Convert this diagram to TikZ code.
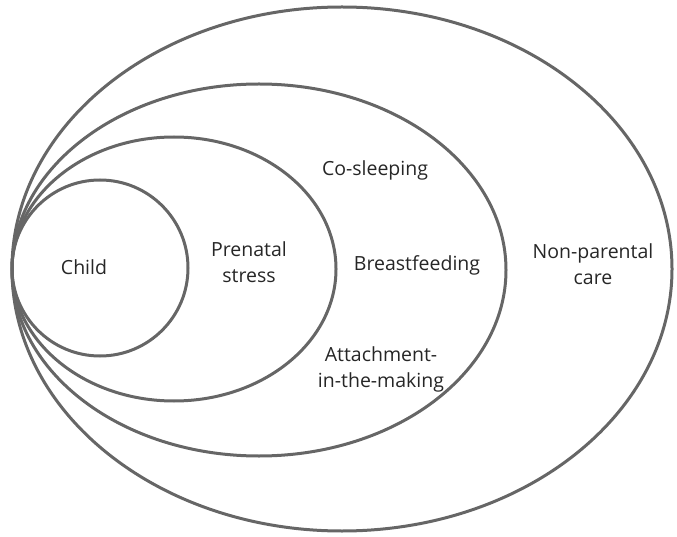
\documentclass[tikz,border=0pt]{standalone}
\usepackage{fontspec}
\setmainfont{Open Sans}
\begin{document}
\begin{tikzpicture}[x=1pt,y=-1pt,
  ring/.style={draw=black!60, line width=3pt},
  lbl/.style={font=\fontsize{19.5}{26}\selectfont, text=black!85, align=center, inner sep=0pt}]
\useasboundingbox (0,0) rectangle (677,537);
\draw[ring] (342,269) ellipse [x radius=330, y radius=262];
\draw[ring] (259,270) ellipse [x radius=247, y radius=186];
\draw[ring] (174,269) ellipse [x radius=162, y radius=132];
\draw[ring] (100,268) ellipse [x radius=88, y radius=88];
\node[lbl] (child) at (84,267) {Child};
\node[lbl] (prenatal) at (249,262) {Prenatal\\stress};
\node[lbl] (cosleep) at (375,170) {Co-sleeping};
\node[lbl] (breast) at (417,265) {Breastfeeding};
\node[lbl] (attach) at (381,369) {Attachment-\\in-the-making};
\node[lbl] (nonpar) at (593,264) {Non-parental\\care};
\end{tikzpicture}
\end{document}
